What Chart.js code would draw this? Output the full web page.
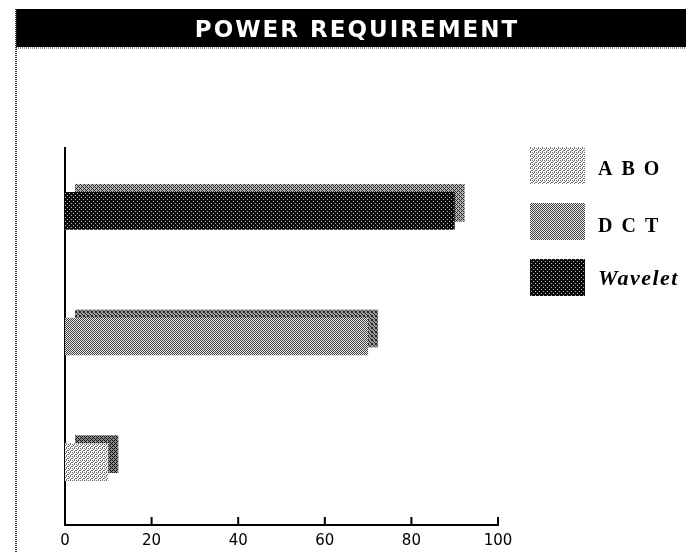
<!DOCTYPE html>
<html lang="en">
<head>
<meta charset="UTF-8">
<title>Power Requirement</title>
<script src="https://cdn.jsdelivr.net/npm/chart.js"></script>
<style>
  body { margin: 0; background: #fff; }
  #wrap { width: 686px; height: 553px; }
</style>
</head>
<body>
<div id="wrap"><canvas id="myChart" width="686" height="553"></canvas></div>
<script>
// data
const categories = ['ABO', 'DCT', 'Wavelet'];
const powerValues = [10, 70, 90];
const xTicks = [0, 20, 40, 60, 80, 100];
const chartTitle = 'POWER REQUIREMENT';

// small dithered patterns, a bit like the old printout
function makePattern(bg, fg, cells) {
    const c = document.createElement('canvas');
    c.width = 4; c.height = 4;
    const g = c.getContext('2d');
    g.fillStyle = bg;
    g.fillRect(0, 0, 4, 4);
    g.fillStyle = fg;
    cells.forEach(p => g.fillRect(p[0], p[1], 1, 1));
    return document.getElementById('myChart').getContext('2d').createPattern(c, 'repeat');
}

const frontFills = [
    makePattern('#ffffff', '#6e6e6e', [[0,0],[2,0],[1,1],[3,2],[0,2],[2,3]]),
    makePattern('#e6e6e6', '#444444', [[0,0],[1,1],[2,2],[3,3],[2,0],[3,1],[0,2],[1,3]]),
    makePattern('#0a0a0a', '#bdbdbd', [[1,1],[3,3]])
];
const shadowFills = [
    makePattern('#888888', '#111111', [[0,0],[1,1],[2,2],[3,3],[2,0],[0,2]]),
    makePattern('#9a9a9a', '#222222', [[0,0],[1,1],[2,2],[3,3],[3,0],[0,3]]),
    makePattern('#b0b0b0', '#333333', [[0,0],[1,1],[2,2],[3,3],[1,3],[3,1]])
];

const frame = {
    id: 'frame',
    beforeDraw(chart) {
        const ctx = chart.ctx;
        ctx.save();
        ctx.fillStyle = '#fff';
        ctx.fillRect(0, 0, chart.width, chart.height);
        // title band
        ctx.fillStyle = '#000';
        ctx.fillRect(16, 9, chart.width - 16, 38);
        ctx.fillStyle = '#fff';
        ctx.font = 'bold 23px "DejaVu Sans"';
        ctx.letterSpacing = '2px';
        ctx.textAlign = 'center';
        ctx.textBaseline = 'alphabetic';
        ctx.fillText(chartTitle, 357, 37);
        // dotted border down the left side and under the band
        ctx.strokeStyle = '#333';
        ctx.lineWidth = 2;
        ctx.setLineDash([1, 1]);
        ctx.beginPath();
        ctx.moveTo(16, 9);
        ctx.lineTo(16, chart.height);
        ctx.stroke();
        ctx.beginPath();
        ctx.moveTo(16, 48);
        ctx.lineTo(chart.width, 48);
        ctx.lineWidth = 1;
        ctx.stroke();
        ctx.restore();
    },
    beforeDatasetsDraw(chart) {
        const ctx = chart.ctx;
        const meta = chart.getDatasetMeta(0);
        ctx.save();
        meta.data.forEach((bar, i) => {
            const p = bar.getProps(['x', 'y', 'base', 'height'], true);
            ctx.fillStyle = shadowFills[i];
            ctx.fillRect(p.base + 10, p.y - p.height / 2 - 8, p.x - p.base, p.height);
        });
        ctx.restore();
    },
    afterDraw(chart) {
        const ctx = chart.ctx;
        const xs = chart.scales.x;
        const bottom = chart.chartArea.bottom;
        ctx.save();
        ctx.fillStyle = '#000';
        xTicks.forEach(v => {
            if (v === 0) return;
            const px = xs.getPixelForValue(v);
            ctx.fillRect(px - 1, bottom - 8, 2, 8);
        });
        // legend
        const top = [147, 203, 259];
        const baseline = [175, 232, 285];
        categories.forEach((name, i) => {
            ctx.fillStyle = frontFills[i];
            ctx.fillRect(530, top[i], 55, 37);
            ctx.fillStyle = '#000';
            ctx.textAlign = 'left';
            ctx.textBaseline = 'alphabetic';
            if (name === 'Wavelet') {
                ctx.font = 'italic bold 22px "Liberation Serif"';
                ctx.letterSpacing = '1.5px';
            } else {
                ctx.font = 'bold 20px "Liberation Serif"';
                ctx.letterSpacing = '9px';
            }
            ctx.fillText(name, 598, baseline[i]);
        });
        ctx.restore();
    }
};

const ctx = document.getElementById('myChart');
new Chart(ctx, {
    type: 'bar',
    data: {
        labels: categories,
        datasets: [{
            label: 'Power',
            data: powerValues,
            backgroundColor: frontFills,
            borderWidth: 0,
            categoryPercentage: 0.6,
            barPercentage: 0.5
        }]
    },
    options: {
        indexAxis: 'y',
        responsive: false,
        animation: false,
        layout: { padding: { left: 65, right: 188, top: 148, bottom: 0 } },
        plugins: {
            legend: { display: false },
            title: { display: false },
            tooltip: { enabled: false }
        },
        scales: {
            x: {
                min: 0,
                max: 100,
                afterBuildTicks: axis => { axis.ticks = xTicks.map(v => ({ value: v })); },
                afterFit: axis => { axis.height = 28; },
                grid: { display: false, drawTicks: false },
                border: { display: true, color: '#000', width: 2 },
                ticks: { color: '#000', padding: 7, font: { family: 'DejaVu Sans', size: 15 } }
            },
            y: {
                reverse: true,
                afterFit: axis => { axis.width = 0; },
                grid: { display: false, drawTicks: false },
                border: { display: true, color: '#000', width: 2 },
                ticks: { display: false }
            }
        }
    },
    plugins: [frame]
});
</script>
</body>
</html>
